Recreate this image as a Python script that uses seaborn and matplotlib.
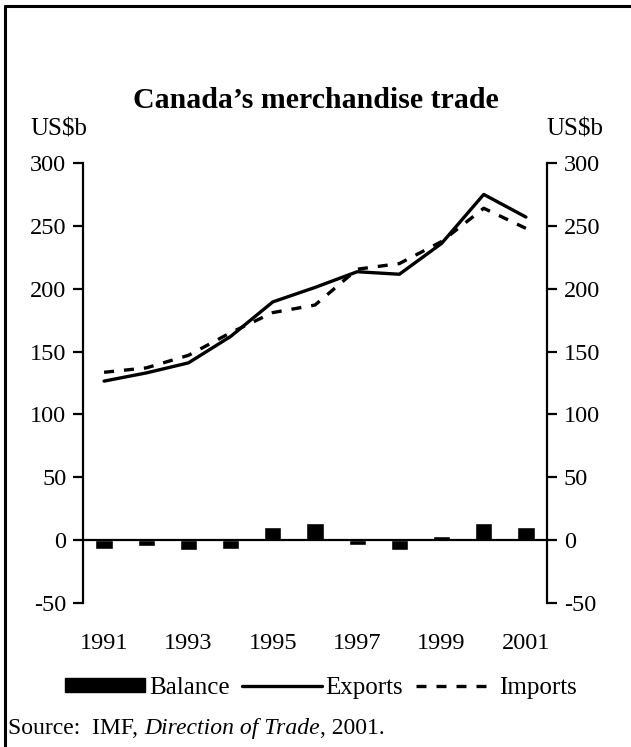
import numpy as np
import pandas as pd
import matplotlib.pyplot as plt
import seaborn as sns
from matplotlib.lines import Line2D
from matplotlib.patches import Rectangle

years = [str(y) for y in range(1991, 2002)]
exports = [126.5, 133, 141, 162, 189.5, 201, 213.5, 211.5, 236, 275, 257]
imports = [133.5, 137, 147, 165, 181, 187, 215.5, 220, 237.5, 264, 248]
balance = [-6.9, -4.8, -8.2, -6.9, 10.6, 13.8, -3.7, -8.2, 2.9, 13.8, 10.6]
yticks = [-50, 0, 50, 100, 150, 200, 250, 300]

df = pd.DataFrame({"year": years, "pos": np.arange(len(years)),
                   "exports": exports, "imports": imports, "balance": balance})

sns.set_style("white")
plt.rcParams['font.family'] = ['Liberation Serif', 'DejaVu Serif']
plt.rcParams['font.size'] = 17.5
plt.rcParams['axes.unicode_minus'] = False
for k in ['text.color', 'axes.labelcolor', 'xtick.color', 'ytick.color', 'axes.edgecolor']:
    plt.rcParams[k] = 'black'

fig = plt.figure(figsize=(6.31, 7.47), dpi=100)
ax = fig.add_axes([0.1315, 0.1928, 0.7354, 0.589])

sns.barplot(data=df, x="year", y="balance", color="black", width=0.41,
            saturation=1, ax=ax, zorder=3)
sns.lineplot(data=df, x="pos", y="exports", color="black", lw=2.4, ax=ax, zorder=4)
sns.lineplot(data=df, x="pos", y="imports", color="black", lw=2.4,
             dashes=False, ax=ax, zorder=4)
ax.lines[-1].set_dashes((3, 3))

ax.set_xlim(-0.5, len(years) - 0.5)
ax.set_ylim(-50, 300)
ax.set_yticks(yticks)
ax.set_xlabel("")
ax.set_ylabel("")

for s in ["top", "right"]:
    ax.spines[s].set_visible(False)
ax.spines["left"].set_linewidth(1.6)
ax.spines["bottom"].set_position(("data", 0))
ax.spines["bottom"].set_linewidth(1.6)
ax.spines["bottom"].set_zorder(5)
ax.set_xticks(np.arange(len(years) - 1) + 0.5)
ax.set_xticklabels([])
ax.tick_params(axis="x", direction="out", length=6, width=1.6)
ax.tick_params(axis="y", direction="out", length=7, width=1.6,
               labelsize=17.5, pad=5)

ax2 = ax.twinx()
ax2.set_ylim(ax.get_ylim())
ax2.set_yticks(yticks)
for s in ["top", "left", "bottom"]:
    ax2.spines[s].set_visible(False)
ax2.spines["right"].set_linewidth(1.6)
ax2.tick_params(axis="y", direction="out", length=7, width=1.6,
                labelsize=17.5, pad=5)
ax2.grid(False)

# odd years under the plot
for i, y in enumerate(years):
    if i % 2 == 0:
        ax.text(i, -0.091, y, transform=ax.get_xaxis_transform(),
                ha="center", va="center", fontsize=17.5)

fig.text(0.5, 0.866, "Canada\u2019s merchandise trade", ha="center", va="center",
         fontsize=21.5, fontweight="bold")
fig.text(0.093, 0.826, "US$b", ha="center", va="center", fontsize=18)
fig.text(0.911, 0.826, "US$b", ha="center", va="center", fontsize=18)

handles = [Rectangle((0, 0), 1, 1, facecolor="black", edgecolor="black"),
           Line2D([], [], color="black", lw=2.4),
           Line2D([], [], color="black", lw=2.4, dashes=(3, 3))]
fig.legend(handles, ["Balance", "Exports", "Imports"], loc="center",
           bbox_to_anchor=(0.509, 0.079), ncol=3, frameon=False, fontsize=18,
           handlelength=3.2, handleheight=0.5, handletextpad=0.15,
           columnspacing=0.5)

t1 = fig.text(0.013, 0.025, "Source:  IMF, ", ha="left", va="center", fontsize=17)
t2 = plt.annotate("Direction of Trade", xy=(1, 0), xycoords=t1, va="bottom",
                  ha="left", fontsize=17, style="italic")
plt.annotate(", 2001.", xy=(1, 0), xycoords=t2, va="bottom", ha="left", fontsize=17)

# frame around the chart
fig.add_artist(Line2D([0.008, 0.008], [0, 0.992], color="black", lw=2.2))
fig.add_artist(Line2D([0.008, 1], [0.992, 0.992], color="black", lw=2.2))

fig.savefig("out.png", dpi=100)
